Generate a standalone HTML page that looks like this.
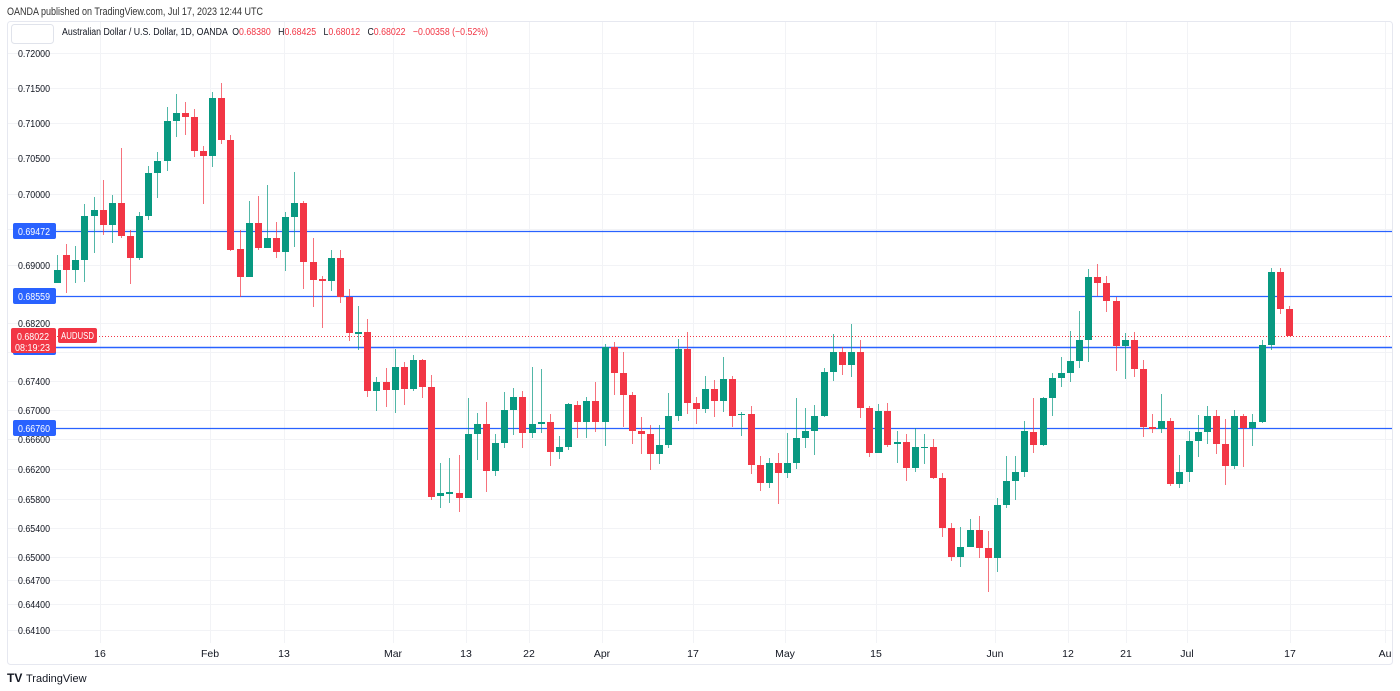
<!DOCTYPE html>
<html><head><meta charset="utf-8"><style>
html,body{margin:0;padding:0;background:#fff;width:1400px;height:691px;overflow:hidden;font-family:"Liberation Sans",sans-serif}
</style></head><body>
<svg id="s" width="1400" height="691" xmlns="http://www.w3.org/2000/svg" font-family="Liberation Sans, sans-serif">
<text x="7" y="15" font-size="11" fill="#333" textLength="256" lengthAdjust="spacingAndGlyphs">OANDA published on TradingView.com, Jul 17, 2023 12:44 UTC</text>
<rect x="7.5" y="21.5" width="1385" height="643" rx="3" fill="none" stroke="#e6e8f0"/>
<g id="grid" stroke="#f2f3f6" stroke-width="1"></g>
<rect x="11.5" y="24.5" width="42" height="19" rx="3" fill="#fff" stroke="#e0e3eb"/>
<text x="62" y="35" font-size="10" fill="#131722" xml:space="preserve" textLength="426" lengthAdjust="spacingAndGlyphs">Australian Dollar / U.S. Dollar, 1D, OANDA  O<tspan fill="#f23645">0.68380</tspan>   H<tspan fill="#f23645">0.68425</tspan>   L<tspan fill="#f23645">0.68012</tspan>   C<tspan fill="#f23645">0.68022</tspan>   <tspan fill="#f23645">−0.00358 (−0.52%)</tspan></text>
<g id="yl" font-size="10" fill="#131722" text-anchor="end"></g>
<g id="hl"></g>
<line x1="57" y1="336.5" x2="1392" y2="336.5" stroke="#f23645" stroke-dasharray="1,2"/>
<g id="c"></g>
<g id="lab"></g>
<g font-size="10.5" fill="#131722" text-anchor="middle" id="xl"></g>
<text x="7" y="682" font-size="12" font-weight="bold" fill="#131722">TV</text>
<text x="26" y="682" font-size="11" fill="#131722">TradingView</text>
</svg>
<script>
var NS="http://www.w3.org/2000/svg";
function el(p,t,a,txt){var e=document.createElementNS(NS,t);for(var k in a)e.setAttribute(k,a[k]);if(txt)e.textContent=txt;document.getElementById(p).appendChild(e);return e;}
var gy=[53,88,123,158,194,229,265,323,352,381,410,439,469,499,528,557,580,604,630];
gy.forEach(function(y){el("grid","line",{x1:8,x2:1392,y1:y+.5,y2:y+.5});});
[100,210,284,393,466,529,602,693,785,876,995,1068,1126,1187,1290,1385].forEach(function(x){el("grid","line",{x1:x+.5,x2:x+.5,y1:22,y2:643});});
var yl=[[53,"0.72000"],[88,"0.71500"],[123,"0.71000"],[158,"0.70500"],[194,"0.70000"],[265,"0.69000"],[323,"0.68200"],[381,"0.67400"],[410,"0.67000"],[439,"0.66600"],[469,"0.66200"],[499,"0.65800"],[528,"0.65400"],[557,"0.65000"],[580,"0.64700"],[604,"0.64400"],[630,"0.64100"]];
yl.forEach(function(a){el("yl","text",{x:50,y:a[0]+4,textLength:32,lengthAdjust:"spacingAndGlyphs"},a[1]);});
[[231,"0.69472"],[296,"0.68559"],[347,"0.67867"],[428,"0.66760"]].forEach(function(a){
 el("hl","line",{x1:55,x2:1392,y1:a[0]+.5,y2:a[0]+.5,stroke:"#2962ff","stroke-width":a[0]==347?1.5:1.2});
 el("lab","rect",{x:13,y:a[0]-8,width:43,height:16,rx:2,fill:"#2962ff"});
 el("lab","text",{x:18,y:a[0]+4,"font-size":10,fill:"#fff",textLength:32,lengthAdjust:"spacingAndGlyphs"},a[1]);
});
el("lab","rect",{x:11,y:328,width:45,height:25,rx:2,fill:"#f23645"});
el("lab","text",{x:17,y:340,"font-size":10,fill:"#fff",textLength:32,lengthAdjust:"spacingAndGlyphs"},"0.68022");
el("lab","text",{x:15,y:351,"font-size":10,fill:"#fff",textLength:35,lengthAdjust:"spacingAndGlyphs"},"08:19:23");
el("lab","rect",{x:58,y:328,width:39,height:15,rx:2,fill:"#f23645"});
el("lab","text",{x:61,y:339,"font-size":10,fill:"#fff",textLength:33,lengthAdjust:"spacingAndGlyphs"},"AUDUSD");
[[100,"16"],[210,"Feb"],[284,"13"],[393,"Mar"],[466,"13"],[529,"22"],[602,"Apr"],[693,"17"],[785,"May"],[876,"15"],[995,"Jun"],[1068,"12"],[1126,"21"],[1187,"Jul"],[1290,"17"],[1385,"Au"]].forEach(function(a){el("xl","text",{x:a[0],y:657},a[1]);});
var D=[[283,270,255,283],[255,270,244,293],[270,260,246,283],[260,216,204,282],[216,210,197,253],[210,225,180,235],[225,203,195,243],[203,236,148,238],[236,258,230,284],[258,216,212,260],
[216,173,166,220],[173,161,152,198],[161,121,107,171],[121,113,94,137],[113,117,102,135],[117,151,109,157],[151,156,146,204],[156,98,92,167],[98,140,83,144],[140,250,135,251],
[249,277,230,297],[277,223,201,277],[223,248,196,250],[248,238,185,248],[238,252,222,258],[252,217,212,271],[217,203,172,247],[203,262,201,289],[262,280,238,307],[279,281,276,328],
[281,258,250,291],[258,297,250,303],[297,333,289,341],[334,332,306,350],[332,391,319,397],[391,382,377,411],[382,390,368,407],[390,367,349,413],[367,389,362,405],[389,360,355,391],
[360,387,359,398],[387,497,375,500],[496,493,463,508],[494,492,458,503],[493,498,455,512],[498,434,398,498],[434,424,413,460],[424,471,402,492],[471,443,434,476],[443,410,392,448],
[410,397,388,435],[397,433,391,448],[433,424,367,438],[424,422,369,433],[422,452,414,466],[452,447,436,459],[447,404,403,450],[405,422,401,438],[422,401,397,438],[401,422,382,432],
[422,347,344,446],[347,373,342,395],[373,395,352,427],[395,431,392,444],[431,434,417,454],[434,454,425,470],[454,445,425,464],[445,416,393,448],[416,349,339,421],[349,403,332,414],
[403,409,397,424],[409,389,376,413],[389,401,380,417],[401,379,357,412],[379,416,376,427],[415,414,412,436],[414,465,406,474],[465,483,456,491],[483,463,458,488],[463,473,453,504],
[473,463,433,478],[463,438,398,469],[438,431,408,448],[431,416,405,455],[416,372,368,417],[372,352,334,381],[352,365,347,375],[365,352,324,377],[352,408,340,418],[408,453,406,457],
[453,411,404,453],[411,445,403,447],[444,442,431,463],[442,468,434,481],[468,447,428,472],[448,447,434,464],[447,478,439,479],[478,528,473,537],[528,557,523,561],[557,547,527,567],
[547,530,519,547],[530,548,516,558],[548,558,531,592],[558,505,498,572],[505,481,456,508],[481,472,456,500],[472,431,421,477],[432,445,398,453],[445,398,397,446],[398,378,373,416],
[378,373,357,387],[373,361,331,382],[361,340,311,368],[340,277,269,362],[277,283,264,296],[283,301,276,312],[301,346,297,371],[346,340,333,379],[340,369,332,377],[369,427,360,437],
[427,429,414,433],[429,421,394,433],[421,484,418,486],[484,472,455,488],[472,441,431,482],[441,432,415,457],[432,416,406,444],[416,444,410,454],[444,466,419,485],[466,416,410,469],
[416,428,414,467],[428,422,414,446],[422,345,340,423],[345,272,268,350],[272,309,268,314],[309,336,306,336]];
var x0=57,dx=(1289-57)/135;
D.forEach(function(d,i){
 var x=Math.round(x0+i*dx),g=d[1]<d[0],col=g?"#089981":"#f23645";
 el("c","line",{x1:x+.5,x2:x+.5,y1:d[2],y2:d[3],stroke:col,"stroke-opacity":.7});
 var t=Math.min(d[0],d[1]),h=Math.max(1,Math.abs(d[1]-d[0]));
 el("c","rect",{x:x-3,y:t,width:7,height:h,fill:col});
});
</script>
</body></html>
